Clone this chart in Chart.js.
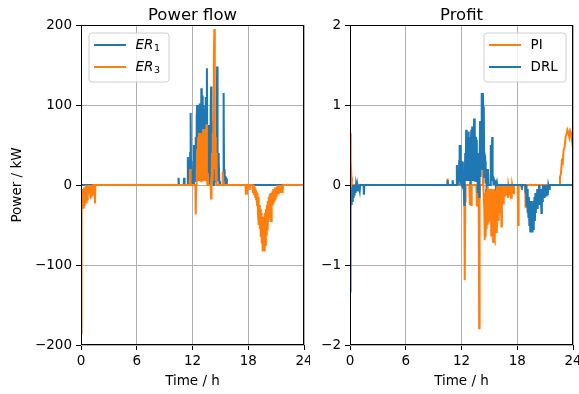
<!DOCTYPE html>
<html><head><meta charset="utf-8">
<script src="https://cdn.jsdelivr.net/npm/chart.js@4.4.1/dist/chart.umd.min.js"></script>
<style>
html,body{margin:0;padding:0;background:#fff;}
#wrap{position:relative;width:579px;height:394px;overflow:hidden;}
canvas{position:absolute;top:0;}
</style></head><body>
<div id="wrap"><canvas id="c1" width="310" height="394" style="left:0"></canvas><canvas id="c2" width="269" height="394" style="left:310px"></canvas></div>
<script>
// ---- tick labels ----
const timeTicks = [0, 6, 12, 18, 24];
const powerTicks = [-200, -100, 0, 100, 200];
const profitTicks = [-2, -1, 0, 1, 2];

// ---- series: [time (h), value] ----
const ER1 = [[0,0],[10.45,0],[10.5,9],[10.55,0],[11.05,0],[11.1,9],[11.15,0],[11.45,0],[11.5,35],[11.55,5],[11.6,20],[11.65,0],[11.75,40],[11.8,90],[11.85,10],[11.9,30],[11.95,0],[12.05,20],[12.1,0],[12.15,50],[12.2,5],[12.25,40],[12.3,5],[12.35,60],[12.4,10],[12.45,85],[12.5,100],[12.55,10],[12.6,90],[12.65,5],[12.7,95],[12.75,102],[12.8,10],[12.85,90],[12.9,5],[12.95,121],[13.0,20],[13.05,112],[13.1,10],[13.15,100],[13.2,15],[13.25,95],[13.3,5],[13.35,85],[13.4,20],[13.45,110],[13.5,10],[13.55,146],[13.6,20],[13.65,60],[13.7,75],[13.75,10],[13.8,50],[13.85,0],[13.9,30],[13.95,90],[14.0,123],[14.05,10],[14.1,80],[14.15,5],[14.2,60],[14.25,0],[14.3,40],[14.35,0],[14.45,20],[14.5,60],[14.55,5],[14.6,90],[14.65,148],[14.7,20],[14.75,40],[14.8,5],[14.85,30],[14.9,0],[14.95,5],[15.0,0],[15.3,0],[15.35,115],[15.4,5],[15.45,20],[15.5,0],[15.55,10],[15.65,8],[15.7,0],[24,0]];

const ER3 = [[0,-185],[0.03,-40],[0.06,-10],[0.1,-35],[0.13,-5],[0.17,-30],[0.2,-8],[0.25,-28],[0.3,-3],[0.35,-25],[0.4,-5],[0.45,-20],[0.5,0],[0.55,-22],[0.6,-3],[0.65,-18],[0.7,0],[0.75,-15],[0.8,0],[0.9,-10],[0.95,0],[1.05,-17],[1.1,0],[1.15,-15],[1.2,0],[1.3,-12],[1.35,0],[1.45,0],[1.5,-23],[1.55,0],[11.7,0],[11.75,20],[11.8,0],[12.3,0],[12.35,-37],[12.4,0],[12.45,15],[12.5,45],[12.55,5],[12.6,60],[12.65,10],[12.7,65],[12.75,5],[12.8,62],[12.85,10],[12.9,65],[12.95,5],[13.0,60],[13.05,10],[13.1,50],[13.15,70],[13.2,5],[13.25,60],[13.3,10],[13.35,45],[13.4,70],[13.45,5],[13.5,76],[13.55,10],[13.6,0],[13.65,15],[13.7,0],[13.95,0],[14.0,-17],[14.05,0],[14.1,40],[14.15,65],[14.2,5],[14.25,90],[14.3,160],[14.35,195],[14.4,20],[14.45,60],[14.5,5],[14.55,40],[14.6,0],[15.2,0],[15.25,17],[15.3,5],[15.35,0],[17.7,0],[17.75,-12],[17.8,-3],[17.85,-12],[17.9,0],[18.1,0],[18.15,-6],[18.2,0],[18.45,0],[18.5,-10],[18.55,0],[18.6,-5],[18.65,-12],[18.7,-2],[18.75,-15],[18.8,-5],[18.85,-18],[18.9,-8],[18.95,-25],[19.0,-10],[19.05,-35],[19.1,-15],[19.15,-50],[19.2,-25],[19.25,-55],[19.3,-30],[19.35,-65],[19.4,-35],[19.45,-73],[19.5,-40],[19.55,-83],[19.6,-45],[19.65,-80],[19.7,-40],[19.75,-83],[19.8,-35],[19.85,-75],[19.9,-30],[19.95,-62],[20.0,-25],[20.05,-55],[20.1,-20],[20.15,-45],[20.2,-15],[20.25,-40],[20.3,-12],[20.35,-35],[20.4,-10],[20.45,-45],[20.5,-15],[20.55,-30],[20.6,-8],[20.65,-25],[20.7,-5],[20.75,-22],[20.8,-5],[20.85,-20],[20.9,-3],[20.95,-18],[21.0,-3],[21.05,-15],[21.1,-2],[21.15,-12],[21.2,0],[21.25,-10],[21.3,0],[21.35,-8],[21.4,0],[21.5,-10],[21.55,0],[21.6,-6],[21.7,-8],[21.75,0],[24,0]];

const PI = [[0,0.65],[0.05,0.6],[0.1,0.3],[0.15,0.1],[0.2,0],[10.45,0],[10.5,0.08],[10.55,0],[12.3,0],[12.35,-1.19],[12.4,-0.2],[12.45,0],[12.85,0],[12.9,-0.25],[12.95,0],[13.05,-0.25],[13.1,0],[13.6,0],[13.65,-0.27],[13.7,-0.1],[13.85,-0.2],[13.9,-1.79],[13.95,-0.1],[14.0,0],[14.25,0],[14.3,0.62],[14.35,0],[14.4,0],[14.45,-0.3],[14.5,-0.69],[14.55,-0.1],[14.6,-0.65],[14.65,-0.05],[14.7,-0.55],[14.75,-0.1],[14.8,-0.5],[14.85,0],[14.9,-0.45],[14.95,-0.05],[15.0,-0.4],[15.05,-0.1],[15.1,-0.44],[15.15,-0.05],[15.2,-0.63],[15.25,-0.1],[15.3,-0.5],[15.35,-0.05],[15.4,-0.71],[15.45,-0.1],[15.5,-0.69],[15.55,-0.05],[15.6,-0.71],[15.65,-0.1],[15.7,-0.6],[15.75,0],[15.8,-0.6],[15.85,-0.05],[15.9,-0.35],[15.95,0],[16.0,-0.45],[16.05,0],[16.1,-0.35],[16.15,-0.05],[16.2,-0.3],[16.25,0],[16.3,-0.52],[16.35,0],[16.4,-0.2],[16.45,0],[16.5,-0.23],[16.55,0],[16.6,-0.14],[16.65,0],[16.7,-0.05],[16.8,-0.12],[16.85,0],[17.0,-0.16],[17.05,0],[17.2,-0.1],[17.25,0],[17.4,-0.17],[17.45,0],[17.6,-0.1],[17.65,0],[18.05,0],[18.1,-0.5],[18.15,0],[18.45,0],[18.5,-0.06],[18.55,0],[18.85,0],[18.9,-0.29],[18.95,0],[22.5,0],[22.6,0.1],[22.7,0.14],[22.8,0.3],[22.9,0.28],[23.0,0.45],[23.1,0.47],[23.2,0.6],[23.3,0.63],[23.4,0.69],[23.5,0.66],[23.6,0.6],[23.7,0.68],[23.8,0.65],[23.9,0.55],[24,0.47]];

const DRL = [[0,-1.33],[0.04,-0.2],[0.08,-0.3],[0.12,-0.05],[0.16,-0.25],[0.2,-0.02],[0.25,-0.2],[0.3,0],[0.35,-0.15],[0.4,-0.02],[0.45,-0.12],[0.5,0],[0.6,-0.1],[0.65,0],[0.75,-0.08],[0.8,0],[0.9,-0.07],[0.95,0],[1.05,-0.07],[1.1,0],[1.45,0],[1.5,-0.12],[1.55,0],[10.45,0],[10.5,0.06],[10.55,0],[11.0,0],[11.05,0.06],[11.1,0],[11.45,0],[11.5,0.25],[11.55,0.02],[11.6,0.1],[11.7,0],[11.75,0.3],[11.8,0.5],[11.85,0.05],[11.9,0.5],[11.95,0.02],[12.0,0.3],[12.05,0],[12.1,0.29],[12.15,0.02],[12.2,0.1],[12.25,-0.05],[12.3,-0.25],[12.35,0.05],[12.4,0.4],[12.45,0.05],[12.5,0.69],[12.55,0.05],[12.6,0.6],[12.65,0.05],[12.7,0.5],[12.75,0.67],[12.8,0.05],[12.85,0.6],[12.9,0.45],[12.95,0.02],[13.0,0.5],[13.05,0.69],[13.1,0.05],[13.15,0.73],[13.2,0.1],[13.25,0.6],[13.3,0.05],[13.35,0.83],[13.4,0.1],[13.45,0.7],[13.5,0.05],[13.55,0.6],[13.6,0.56],[13.65,0.05],[13.7,0.4],[13.75,-0.1],[13.8,0.1],[13.85,0.3],[13.9,-0.15],[13.95,0.3],[14.0,0.8],[14.05,0.1],[14.1,0.6],[14.15,0.9],[14.2,1.15],[14.25,0.2],[14.3,1.15],[14.35,0.9],[14.4,0.98],[14.45,0.1],[14.5,0.27],[14.55,0.3],[14.6,0.02],[14.65,0.2],[14.7,0],[14.8,0.05],[14.85,0.2],[14.9,0],[15.1,0],[15.15,0.5],[15.2,0.05],[15.3,0.6],[15.35,0.1],[15.4,0.1],[15.45,0],[15.55,0.06],[15.65,0.04],[15.7,0],[15.8,0.04],[15.85,0],[18.4,0],[18.5,-0.03],[18.55,0],[18.85,0],[18.9,-0.1],[18.95,0],[19.0,-0.27],[19.05,-0.05],[19.1,-0.35],[19.15,-0.1],[19.2,-0.4],[19.25,-0.15],[19.3,-0.5],[19.35,-0.2],[19.4,-0.58],[19.45,-0.25],[19.5,-0.58],[19.55,-0.2],[19.6,-0.58],[19.65,-0.25],[19.7,-0.55],[19.75,-0.2],[19.8,-0.5],[19.85,-0.15],[19.9,-0.45],[19.95,-0.1],[20.0,-0.35],[20.05,-0.1],[20.1,-0.3],[20.15,-0.05],[20.2,-0.3],[20.25,-0.05],[20.3,-0.25],[20.35,0],[20.4,-0.2],[20.45,-0.05],[20.5,-0.25],[20.55,-0.05],[20.6,-0.35],[20.65,-0.05],[20.7,-0.2],[20.75,0],[20.8,-0.15],[20.85,-0.02],[20.9,-0.15],[20.95,0],[21.0,-0.1],[21.05,0],[21.1,-0.13],[21.15,0],[21.2,-0.08],[21.3,-0.1],[21.35,0],[21.45,-0.05],[21.5,0],[24,0]];

const BLUE = '#1f77b4', ORANGE = '#ff7f0e';
const FONT = "'DejaVu Sans', 'Liberation Sans', sans-serif";
Chart.defaults.font.family = FONT;
Chart.defaults.font.size = 13.5;
Chart.defaults.color = '#000';

const toXY = arr => arr.map(p => ({x: p[0], y: p[1]}));
const fmt = v => (v < 0 ? '\u2212' + Math.abs(v) : String(v));

const decor = {
  id: 'decor',
  afterDatasetsDraw(chart, args, o) {
    const {ctx, chartArea: a} = chart;
    ctx.save();
    ctx.strokeStyle = '#000'; ctx.lineWidth = 1;
    ctx.strokeRect(Math.round(a.left) + 0.5, Math.round(a.top) + 0.5, Math.round(a.right - a.left) - 1, Math.round(a.bottom - a.top) - 1);
    ctx.fillStyle = '#000'; ctx.font = '16.5px ' + FONT;
    ctx.textAlign = 'center'; ctx.textBaseline = 'alphabetic';
    ctx.fillText(o.title, (a.left + a.right) / 2, 19.5);
    const w = o.legendW, h = 49;
    const bx = o.legendRight ? a.right - 7.5 - w : a.left + 7.5;
    const by = a.top + 7.5;
    ctx.beginPath();
    ctx.roundRect(bx + 0.5, by + 0.5, w, h, 3);
    ctx.fillStyle = 'rgba(255,255,255,0.8)'; ctx.fill();
    ctx.strokeStyle = '#d0d0d0'; ctx.lineWidth = 1; ctx.stroke();
    o.items.forEach((it, i) => {
      const cy = by + 12.5 + i * 22;
      ctx.beginPath(); ctx.strokeStyle = it.color; ctx.lineWidth = 2;
      ctx.moveTo(bx + 5.5, cy); ctx.lineTo(bx + 37.5, cy); ctx.stroke();
      ctx.fillStyle = '#000'; ctx.textAlign = 'left'; ctx.textBaseline = 'middle';
      const tx = bx + 47;
      if (it.sub) {
        ctx.font = 'italic 13.5px ' + FONT;
        ctx.fillText(it.label, tx, cy);
        const wd = ctx.measureText(it.label).width;
        ctx.font = '9.5px ' + FONT;
        ctx.fillText(it.sub, tx + wd + 0.5, cy + 4);
      } else {
        ctx.font = '13.5px ' + FONT;
        ctx.fillText(it.label, tx, cy);
      }
    });
    ctx.restore();
  }
};

function makeChart(id, datasets, yTicks, yMin, yMax, yTitle, yWidth, deco) {
  return new Chart(document.getElementById(id), {
    type: 'line',
    data: {datasets},
    options: {
      responsive: false, animation: false, devicePixelRatio: 1,
      layout: {padding: {top: 25, right: 6, left: 0, bottom: 0}},
      elements: {point: {radius: 0}, line: {tension: 0, borderWidth: 2}},
      plugins: {legend: {display: false}, tooltip: {enabled: false}, decor: deco},
      scales: {
        x: {
          type: 'linear', min: 0, max: 24,
          afterBuildTicks: s => { s.ticks = timeTicks.map(v => ({value: v})); },
          afterFit: s => { s.height = 49; s.paddingLeft = 0; s.paddingRight = 0; },
          ticks: {callback: v => fmt(v), padding: 3, maxRotation: 0, autoSkip: false},
          grid: {color: '#b0b0b0', lineWidth: 1, tickColor: '#000', tickLength: 5, tickWidth: 1},
          border: {display: false},
          title: {display: true, text: 'Time / h', padding: {top: 0, bottom: 4}}
        },
        y: {
          type: 'linear', min: yMin, max: yMax,
          afterBuildTicks: s => { s.ticks = yTicks.map(v => ({value: v})); },
          afterFit: s => { s.width = yWidth; s.paddingTop = 0; s.paddingBottom = 0; },
          ticks: {callback: v => fmt(v), padding: 4, autoSkip: false},
          grid: {color: '#b0b0b0', lineWidth: 1, tickColor: '#000', tickLength: 5, tickWidth: 1},
          border: {display: false},
          title: {display: !!yTitle, text: yTitle || '', padding: {top: 9, bottom: 0}}
        }
      }
    },
    plugins: [decor]
  });
}

makeChart('c1', [
  {label: 'ER3', data: toXY(ER3), borderColor: ORANGE, backgroundColor: ORANGE},
  {label: 'ER1', data: toXY(ER1), borderColor: BLUE, backgroundColor: BLUE}
], powerTicks, -200, 200, 'Power / kW', 81, {
  title: 'Power flow', legendRight: false, legendW: 80,
  items: [{label: 'ER', sub: '1', color: BLUE}, {label: 'ER', sub: '3', color: ORANGE}]
});

makeChart('c2', [
  {label: 'DRL', data: toXY(DRL), borderColor: BLUE, backgroundColor: BLUE},
  {label: 'PI', data: toXY(PI), borderColor: ORANGE, backgroundColor: ORANGE}
], profitTicks, -2, 2, '', 40, {
  title: 'Profit', legendRight: true, legendW: 82,
  items: [{label: 'PI', color: ORANGE}, {label: 'DRL', color: BLUE}]
});
</script>
</body></html>
